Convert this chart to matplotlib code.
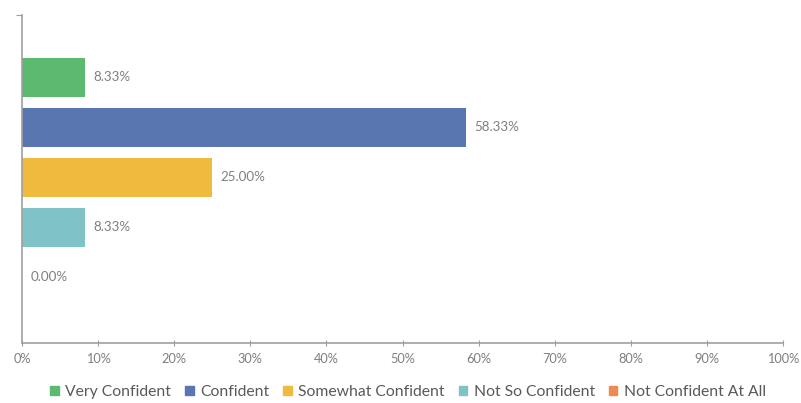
import matplotlib.pyplot as plt
from matplotlib.patches import Patch

plt.rcParams['font.family'] = ['Lato', 'DejaVu Sans']

categories = ['Very Confident', 'Confident', 'Somewhat Confident',
              'Not So Confident', 'Not Confident At All']
values = [8.33, 58.33, 25.00, 8.33, 0.00]
colors = ['#5cb970', '#5a76b0', '#f0ba3e', '#7fc3c7', '#ee8a50']
x_ticks = list(range(0, 101, 10))

fig = plt.figure(figsize=(8.01, 4.03), dpi=100)
ax = fig.add_axes([22 / 801, 60 / 403, 761 / 801, 328 / 403])

pos = list(range(len(categories)))
ax.barh(pos, values, height=0.78, color=colors)
for p, v in zip(pos, values):
    ax.annotate(f'{v:.2f}%', (v, p), xytext=(6, 0), textcoords='offset points',
                va='center', ha='left', fontsize=9.6, color='#7f7f7f')

ax.set_xlim(0, 100)
ax.set_ylim(5.32, -1.24)
ax.set_xticks(x_ticks)
ax.set_xticklabels([f'{t}%' for t in x_ticks])
ax.set_yticks([-1.24])
ax.set_yticklabels([''])
ax.tick_params(axis='x', direction='inout', length=5, color='#a0a0a0',
               labelsize=9.2, labelcolor='#7f7f7f', pad=5)
ax.tick_params(axis='y', direction='out', length=4, color='#a0a0a0')
for s in ['top', 'right']:
    ax.spines[s].set_visible(False)
for s in ['left', 'bottom']:
    ax.spines[s].set_color('#a0a0a0')
    ax.spines[s].set_linewidth(1.2)

handles = [Patch(color=c, label=l) for c, l in zip(colors, categories)]
fig.legend(handles=handles, loc='center', bbox_to_anchor=(408 / 801, 11 / 403),
           ncol=5, frameon=False, fontsize=11.3, handlelength=0.55, handleheight=0.55,
           handletextpad=0.4, columnspacing=0.9, labelcolor='#595959')

fig.savefig('out.png', dpi=100)
